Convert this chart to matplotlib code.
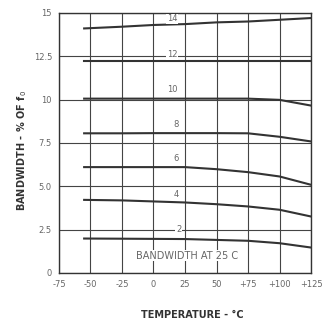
import numpy as np
import matplotlib
matplotlib.use('Agg')
import matplotlib.pyplot as plt

# temperature points (deg C)
temps = [-55, -25, 0, 25, 50, 75, 100, 125]

# bandwidth (% of f0) for each curve
bw_14 = [14.1, 14.2, 14.3, 14.35, 14.45, 14.5, 14.6, 14.7]
bw_12 = [12.2, 12.2, 12.2, 12.2, 12.2, 12.2, 12.2, 12.2]
bw_10 = [10.05, 10.05, 10.05, 10.05, 10.05, 10.05, 9.98, 9.65]
bw_8 = [8.05, 8.05, 8.06, 8.06, 8.06, 8.05, 7.85, 7.58]
bw_6 = [6.1, 6.1, 6.1, 6.1, 5.98, 5.81, 5.56, 5.08]
bw_4 = [4.21, 4.18, 4.12, 4.06, 3.96, 3.83, 3.64, 3.25]
bw_2 = [1.98, 1.97, 1.96, 1.95, 1.9, 1.85, 1.71, 1.46]

curves = [bw_14, bw_12, bw_10, bw_8, bw_6, bw_4, bw_2]
curve_labels = ['14', '12', '10', '8', '6', '4', '2']
label_x = [15, 15, 15, 18, 18, 18, 20]
label_y = [14.65, 12.6, 10.55, 8.55, 6.6, 4.5, 2.5]

xticks = [-75, -50, -25, 0, 25, 50, 75, 100, 125]
xtick_labels = ['-75', '-50', '-25', '0', '25', '50', '+75', '+100', '+125']
yticks = [0, 2.5, 5, 7.5, 10, 12.5, 15]
ytick_labels = ['0', '2.5', '5.0', '7.5', '10', '12.5', '15']

txt = '#666666'
line = '#333333'

fig = plt.figure(figsize=(3.22, 3.21), dpi=100)
ax = fig.add_axes([0.183, 0.150, 0.783, 0.810])

for vals in curves:
    ax.plot(temps, vals, color=line, lw=1.5)

for lab, x, y in zip(curve_labels, label_x, label_y):
    ax.text(x, y, lab, fontsize=6, color=txt, ha='center', va='center',
            bbox=dict(facecolor='white', edgecolor='none', pad=0.5))

ax.text(27, 1.0, 'BANDWIDTH AT 25 C', fontsize=7, color=txt, ha='center', va='center',
        bbox=dict(facecolor='white', edgecolor='none', pad=0.5))

ax.set_xlim(-75, 125)
ax.set_ylim(0, 15)
ax.set_xticks(xticks)
ax.set_xticklabels(xtick_labels)
ax.set_yticks(yticks)
ax.set_yticklabels(ytick_labels)
ax.tick_params(labelsize=6, colors=txt, length=0, pad=5)
ax.grid(True, color='#444444', lw=0.8)
ax.set_axisbelow(True)
for s in ax.spines.values():
    s.set_color('#333333')
    s.set_linewidth(1.0)

fig.text(0.597, 0.02, 'TEMPERATURE - \u00b0C', fontsize=7, color='#333333',
         fontweight='bold', ha='center', va='center')
fig.text(0.07, 0.53, 'BANDWIDTH - % OF f$_0$', fontsize=7, color='#333333',
         fontweight='bold', rotation=90, ha='center', va='center')

fig.savefig('out.png', dpi=100)
